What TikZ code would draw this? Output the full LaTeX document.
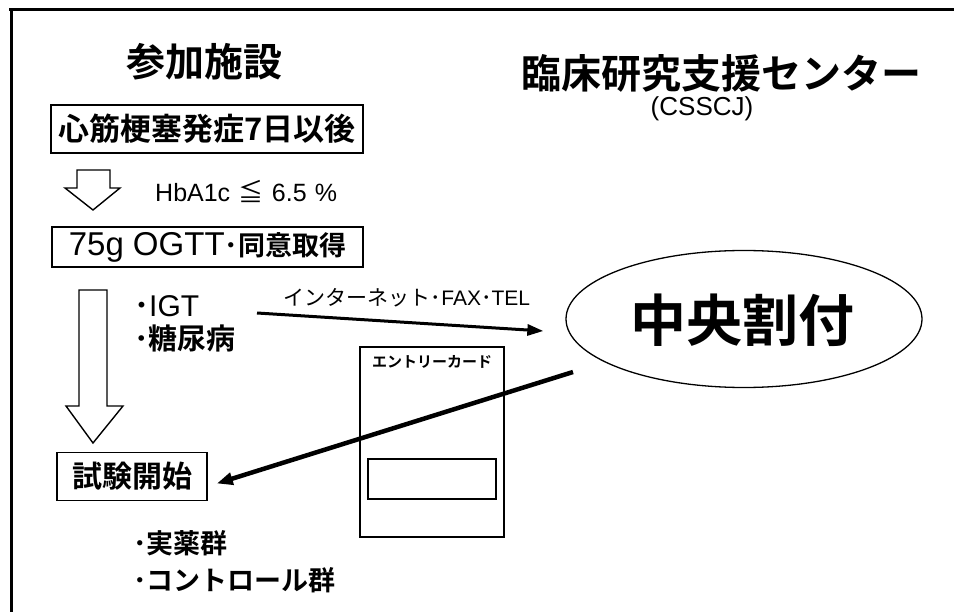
\documentclass[tikz,border=0pt]{standalone}
\usepackage{fontspec}
\setmainfont{Noto Sans CJK JP}
\newfontfamily\jpb{Noto Sans CJK JP}[UprightFont=* Bold]
\newfontfamily\jpr{Noto Sans CJK JP}
\newfontfamily\lat{Liberation Sans}
\usetikzlibrary{shapes.geometric,arrows.meta}
\begin{document}
\begin{tikzpicture}[x=1pt,y=-1pt,
  jtext/.style={font=\jpb, inner sep=0pt},
  boxnode/.style={draw, line width=1.6pt, inner sep=0pt, font=\jpb},
  hollow/.style={draw, line width=1.4pt, fill=white, line join=miter},
  conn/.style={line width=3pt, -{Triangle[length=16pt,width=11pt]}},
  connb/.style={line width=4.5pt, -{Triangle[length=16pt,width=12pt]}}]
\useasboundingbox (0,0) rectangle (954,612);
\fill[white] (0,0) rectangle (954,612);
% frame lines
\coordinate (fl) at (9,10);
\coordinate (fr) at (954,10);
\coordinate (fb) at (11,612);
\draw[line width=3pt] (fl) -- (fr);
\draw[line width=3pt] (11,9) -- (fb);
% titles
\node[jtext, font=\jpb\fontsize{39}{39}\selectfont] (t1) at (204,62) {参加施設};
\node[jtext, anchor=east, font=\jpb\fontsize{40}{40}\selectfont] (t2) at (922,73) {臨床研究支援センター};
\node[inner sep=0pt, font=\lat\fontsize{26}{26}\selectfont] (t3) at (702,109) {(CSSCJ)};
% box 1
\node[boxnode, minimum width=312pt, minimum height=48pt, font=\jpb\fontsize{31}{31}\selectfont] (b1) at (207,129) {心筋梗塞発症7日以後};
% small hollow arrow
\draw[hollow] (77,170) -- (110,170) -- (110,188) -- (120,188) -- (93,210) -- (65,188) -- (77,188) -- cycle;
\node[anchor=west, inner sep=0pt, font=\lat\fontsize{25}{25}\selectfont] (hb) at (155,192) {HbA1c\,\,{\jpr ≦}\,\,6.5\,\,\%};
% box 2
\node[boxnode, minimum width=311pt, minimum height=40pt, font=\fontsize{30}{30}\selectfont] (b2) at (207.5,247) {{\lat\fontsize{33}{33}\selectfont 75g OGTT}{\jpb\fontsize{27}{27}\selectfont ･同意取得}};
% big hollow arrow
\draw[hollow] (79,290) -- (107,290) -- (107,406) -- (123,406) -- (93,443) -- (66,406) -- (79,406) -- cycle;
% bullets
\node[anchor=west, inner sep=0pt, font=\fontsize{30}{30}\selectfont] (igt) at (134,306) {{\jpb ･}{\lat IGT}};
\node[anchor=west, inner sep=0pt, font=\jpb\fontsize{29}{29}\selectfont] (dm) at (134,338) {･糖尿病};
% ellipse
\node[draw, ellipse, line width=1.3pt, minimum width=356pt, minimum height=137pt, inner sep=0pt] (ell) at (744,319) {};
\node[jtext, font=\jpb\fontsize{56}{56}\selectfont] (ctr) at (742,320) {中央割付};
% entry card
\node[draw, line width=1.3pt, minimum width=144pt, minimum height=190pt, inner sep=0pt] (card) at (432,442) {};
\node[jtext, font=\jpb\fontsize{15}{15}\selectfont] (cardlbl) at (432,362) {エントリーカード};
\node[draw, line width=1.3pt, minimum width=128pt, minimum height=40pt, inner sep=0pt] (slot) at (432,479) {};
% box 3
\node[boxnode, minimum width=150pt, minimum height=48pt, font=\jpb\fontsize{30}{30}\selectfont] (b3) at (132,476.5) {試験開始};
% arrows
\coordinate (a1s) at (257,313);
\draw[conn] (a1s) -- ([xshift=-22pt,yshift=-12pt]ell.west);
\node[inner sep=0pt, font=\fontsize{21}{21}\selectfont] (lbl) at (407,298) {{\jpr インターネット･}{\lat FAX}{\jpr ･}{\lat TEL}};
\coordinate (a2s) at (573,372);
\draw[connb] (a2s) -- ([xshift=9pt,yshift=-7pt]b3.east);
% groups
\node[anchor=west, inner sep=0pt, font=\jpb\fontsize{27}{27}\selectfont] (g1) at (133,543) {･実薬群};
\node[anchor=west, inner sep=0pt, font=\jpb\fontsize{27}{27}\selectfont] (g2) at (133,580) {･コントロール群};
\end{tikzpicture}
\end{document}
